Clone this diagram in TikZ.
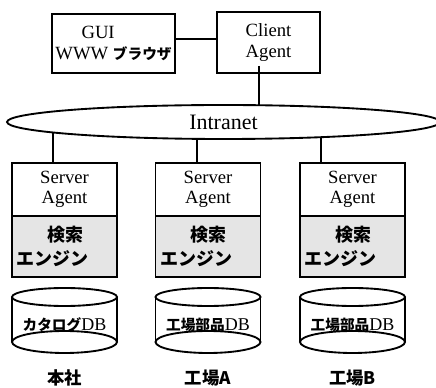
\documentclass[tikz,border=0pt]{standalone}
\usepackage{fontspec}
\setmainfont{Liberation Serif}
\newfontfamily\jp{Noto Sans CJK JP}
\usetikzlibrary{shapes, backgrounds}

\tikzset{
  box/.style={draw, line width=1.4pt, rectangle, inner sep=0pt},
  agentbox/.style={box, minimum width=78.75pt, minimum height=39.75pt, align=center, font=\fontsize{14}{15}\selectfont},
  enginebox/.style={box, fill=black!10, minimum width=78.75pt, minimum height=45.75pt, text width=72pt, align=left, font=\jp\bfseries\fontsize{13.5}{18}\selectfont},
  wire/.style={line width=1.4pt},
  dbtext/.style={font=\fontsize{13.5}{15}\selectfont},
  site/.style={font=\jp\bfseries\fontsize{13}{15}\selectfont},
}

\begin{document}
\begin{tikzpicture}[x=0.75pt, y=-0.75pt]
\useasboundingbox (0,0) rectangle (436,388);

\node[box, minimum width=92.25pt, minimum height=44.25pt, align=left, font=\fontsize{14}{15.5}\selectfont] (gui) at (113.5,43.5) {\hspace*{1.4em}GUI\\WWW {\jp\bfseries\fontsize{11}{15}\selectfont ブラウザ}};
\node[box, minimum width=77.25pt, minimum height=45.75pt, align=center, font=\fontsize{14}{15.5}\selectfont] (client) at (268.5,42.5) {Client\\Agent};

\node[draw, ellipse, line width=1.4pt, fill=white, inner sep=0pt, minimum width=324.75pt, minimum height=25.5pt, font=\fontsize{16.5}{18}\selectfont] (net) at (223.5,122) {Intranet};

% servers
\node[agentbox] (agent1) at (64.5,189.5)  {Server\\Agent};
\node[agentbox] (agent2) at (208,189.5)   {Server\\Agent};
\node[agentbox] (agent3) at (352.5,189.5) {Server\\Agent};
\node[enginebox] (eng1) at (64.5,246.5)  {\hspace*{1.7em}検索\\エンジン};
\node[enginebox] (eng2) at (208,246.5)   {\hspace*{1.7em}検索\\エンジン};
\node[enginebox] (eng3) at (352.5,246.5) {\hspace*{1.7em}検索\\エンジン};

% databases
\draw[wire] (64.5,297) ellipse (52.5 and 9);
\draw[wire] (64.5,342) ellipse (52.5 and 11);
\draw[wire] (12,297) -- (12,342) (117,297) -- (117,342);
\draw[wire] (208,297) ellipse (52.5 and 9);
\draw[wire] (208,342) ellipse (52.5 and 11);
\draw[wire] (155.5,297) -- (155.5,342) (260.5,297) -- (260.5,342);
\draw[wire] (352.5,297) ellipse (52.5 and 9);
\draw[wire] (352.5,342) ellipse (52.5 and 11);
\draw[wire] (300,297) -- (300,342) (405,297) -- (405,342);
\node[dbtext] (db1) at (64.5,325)  {{\jp\bfseries\fontsize{11}{15}\selectfont カタログ}DB};
\node[dbtext] (db2) at (208,325)   {{\jp\bfseries\fontsize{11}{15}\selectfont 工場部品}DB};
\node[dbtext] (db3) at (352.5,325) {{\jp\bfseries\fontsize{11}{15}\selectfont 工場部品}DB};

\node[site] (s1) at (64.5,378)  {本社};
\node[site] (s2) at (208,378)   {工場A};
\node[site] (s3) at (352.5,378) {工場B};

\draw[wire] ([yshift=3.4pt]gui.east) -- ([yshift=3.4pt]gui.east -| client.west);
\begin{pgfonlayer}{background}
\draw[wire] ([xshift=-7.1pt,yshift=6pt]client.south) -- ([xshift=-7.1pt]client.south |- net.center);
\draw[wire] ([xshift=-8.6pt]agent1.north) -- ([xshift=-8.6pt]agent1.north |- net.center);
\draw[wire] ([xshift=-8.25pt]agent2.north) -- ([xshift=-8.25pt]agent2.north |- net.center);
\draw[wire] ([xshift=-23.6pt]agent3.north) -- ([xshift=-23.6pt]agent3.north |- net.center);
\end{pgfonlayer}
\end{tikzpicture}
\end{document}
